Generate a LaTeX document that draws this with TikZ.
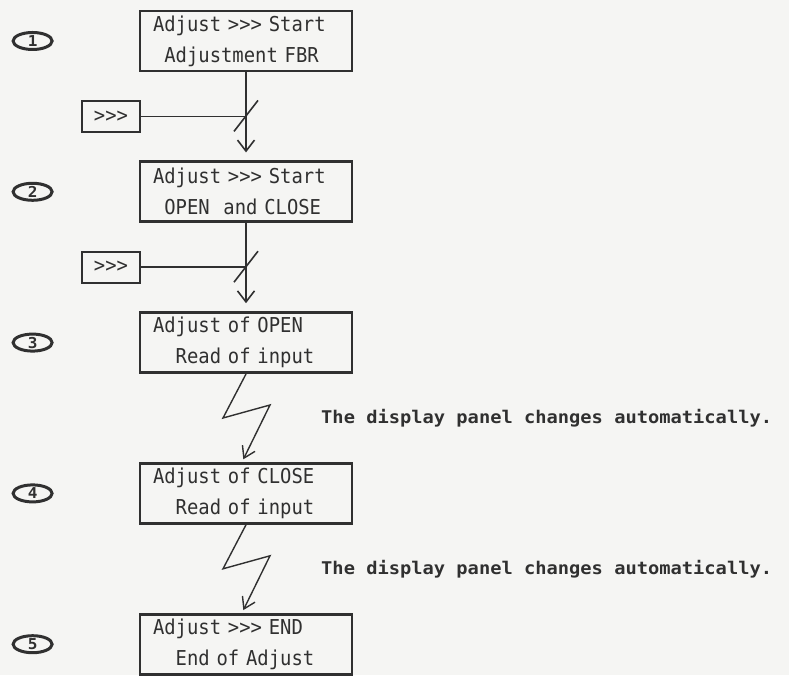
\documentclass[tikz,border=0pt]{standalone}
\usepackage{fontspec}
\usepackage{tikz}
\usetikzlibrary{arrows.meta,positioning,calc,shapes.geometric}
\newfontfamily\lcdfont[FakeStretch=0.92]{DejaVu Sans Mono}
\newfontfamily\notefont[FakeStretch=1.07]{DejaVu Sans Mono}
\definecolor{ink}{HTML}{303030}
\definecolor{paper}{HTML}{F5F5F3}

\begin{document}
\begin{tikzpicture}[x=1pt,y=1pt,node distance=88pt,
box/.style={draw=ink,line width=2.8pt,minimum height=60pt,text width=186pt,inner xsep=13pt,inner ysep=4pt,align=left,text=ink,font=\lcdfont\fontsize{20.5}{31}\selectfont},
keybox/.style={draw=ink,line width=2pt,minimum width=58pt,minimum height=31pt,inner sep=0pt,text=ink,font=\lcdfont\fontsize{20.5}{24}\selectfont},
numtag/.style={ellipse,draw=ink,line width=3pt,minimum width=39pt,minimum height=17pt,inner sep=0pt,text=ink,font=\notefont\bfseries\fontsize{15}{15}\selectfont},
note/.style={inner sep=0pt,text=ink,font=\notefont\bfseries\fontsize{17.5}{20}\selectfont},
arr/.style={draw=ink,line width=1.6pt,-{Straight Barb[length=11pt,width=17pt]},shorten >=8pt},
zig/.style={draw=ink,line width=1.4pt,-{Straight Barb[length=11pt,width=14pt]},shorten >=3pt},
wire/.style={draw=ink,line width=1.6pt}]
\useasboundingbox (0,0) rectangle (789,675);
\fill[paper] (0,0) rectangle (789,675);
\node[box] (b1) at (246,634) {Adjust >>> Start\\\phantom{x}Adjustment FBR};
\node[box,below=of b1] (b2) {Adjust >>> Start\\\phantom{x}OPEN\ \ and CLOSE};
\node[box,below=of b2] (b3) {Adjust of OPEN\\\phantom{xx}Read of input};
\node[box,below=of b3] (b4) {Adjust of CLOSE\\\phantom{xx}Read of input};
\node[box,below=of b4] (b5) {Adjust >>> END\\\phantom{xx}End of Adjust};
\node[numtag,left=85pt of b1] (n1) {1};
\node[numtag,left=85pt of b2] (n2) {2};
\node[numtag,left=85pt of b3] (n3) {3};
\node[numtag,left=85pt of b4] (n4) {4};
\node[numtag,left=85pt of b5] (n5) {5};
\coordinate (m1) at ($(b1.south)!0.5!(b2.north)$);
\coordinate (m2) at ($(b2.south)!0.5!(b3.north)$);
\coordinate (m3) at ($(b3.south)!0.5!(b4.north)$);
\coordinate (m4) at ($(b4.south)!0.5!(b5.north)$);
\node[keybox,left=105pt of m1] (s1) {>>>};
\node[keybox,left=105pt of m2] (s2) {>>>};
\node[note,right=75pt of m3] (t1) {The display panel changes automatically.};
\node[note,right=75pt of m4] (t2) {The display panel changes automatically.};
\draw[arr] (b1) -- (b2);
\draw[arr] (b2) -- (b3);
\draw[wire] (s1) -- (m1);
\draw[wire] (s2) -- (m2);
\draw[wire] ($(m1)+(-12,-15)$) -- ($(m1)+(12,16)$);
\draw[wire] ($(m2)+(-12,-15)$) -- ($(m2)+(12,16)$);
\draw[zig] (b3.south) -- ++(-23,-44) -- ++(47,13) -- ($(b4.north)+(-4,0)$);
\draw[zig] (b4.south) -- ++(-23,-44) -- ++(47,13) -- ($(b5.north)+(-4,0)$);
\end{tikzpicture}
\end{document}
